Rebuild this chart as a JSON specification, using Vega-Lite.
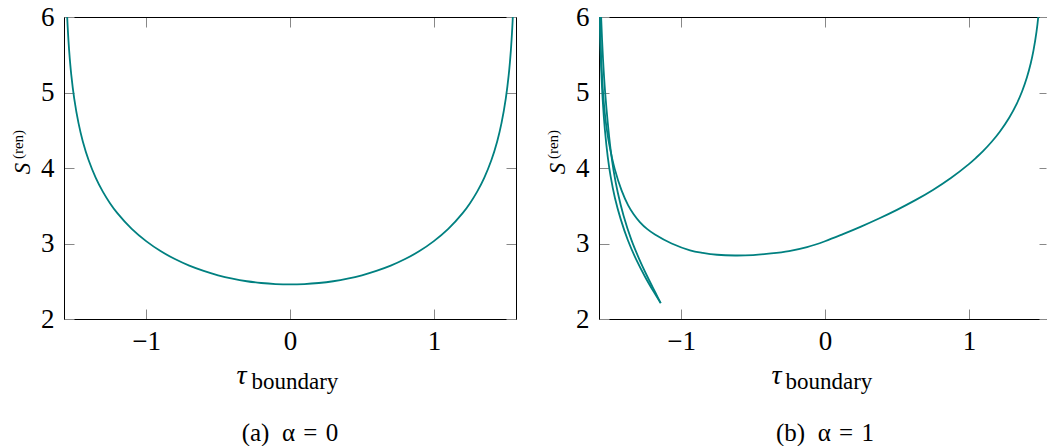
{
  "$schema": "https://vega.github.io/schema/vega-lite/v6.json",
  "background": "white",
  "padding": {"left": 10, "top": 3, "right": 0, "bottom": 0},
  "datasets": {
    "left": [
      {"t": -1.556, "s": 6.376, "c": "a"}, {"t": -1.552, "s": 6.154, "c": "a"}, {"t": -1.545, "s": 5.859, "c": "a"},
      {"t": -1.535, "s": 5.555, "c": "a"}, {"t": -1.52, "s": 5.229, "c": "a"}, {"t": -1.5, "s": 4.922, "c": "a"},
      {"t": -1.47, "s": 4.594, "c": "a"}, {"t": -1.44, "s": 4.352, "c": "a"}, {"t": -1.4, "s": 4.106, "c": "a"},
      {"t": -1.35, "s": 3.87, "c": "a"}, {"t": -1.3, "s": 3.684, "c": "a"}, {"t": -1.25, "s": 3.531, "c": "a"},
      {"t": -1.2, "s": 3.402, "c": "a"}, {"t": -1.1, "s": 3.193, "c": "a"}, {"t": -1.0, "s": 3.031, "c": "a"},
      {"t": -0.9, "s": 2.9, "c": "a"}, {"t": -0.8, "s": 2.794, "c": "a"}, {"t": -0.7, "s": 2.707, "c": "a"},
      {"t": -0.6, "s": 2.637, "c": "a"}, {"t": -0.5, "s": 2.579, "c": "a"}, {"t": -0.4, "s": 2.534, "c": "a"},
      {"t": -0.3, "s": 2.5, "c": "a"}, {"t": -0.2, "s": 2.477, "c": "a"}, {"t": -0.1, "s": 2.463, "c": "a"},
      {"t": 0.0, "s": 2.458, "c": "a"},
      {"t": 0.1, "s": 2.463, "c": "a"}, {"t": 0.2, "s": 2.477, "c": "a"}, {"t": 0.3, "s": 2.5, "c": "a"},
      {"t": 0.4, "s": 2.534, "c": "a"}, {"t": 0.5, "s": 2.579, "c": "a"}, {"t": 0.6, "s": 2.637, "c": "a"},
      {"t": 0.7, "s": 2.707, "c": "a"}, {"t": 0.8, "s": 2.794, "c": "a"}, {"t": 0.9, "s": 2.9, "c": "a"},
      {"t": 1.0, "s": 3.031, "c": "a"}, {"t": 1.1, "s": 3.193, "c": "a"}, {"t": 1.2, "s": 3.402, "c": "a"},
      {"t": 1.25, "s": 3.531, "c": "a"}, {"t": 1.3, "s": 3.684, "c": "a"}, {"t": 1.35, "s": 3.87, "c": "a"},
      {"t": 1.4, "s": 4.106, "c": "a"}, {"t": 1.44, "s": 4.352, "c": "a"}, {"t": 1.47, "s": 4.594, "c": "a"},
      {"t": 1.5, "s": 4.922, "c": "a"}, {"t": 1.52, "s": 5.229, "c": "a"}, {"t": 1.535, "s": 5.555, "c": "a"},
      {"t": 1.545, "s": 5.859, "c": "a"}, {"t": 1.552, "s": 6.154, "c": "a"}, {"t": 1.556, "s": 6.376, "c": "a"}
    ],
    "right": [
      {"t": -1.566, "s": 6.168, "c": "m"}, {"t": -1.562, "s": 5.808, "c": "m"}, {"t": -1.555, "s": 5.423, "c": "m"},
      {"t": -1.542, "s": 4.981, "c": "m"}, {"t": -1.53, "s": 4.717, "c": "m"}, {"t": -1.52, "s": 4.557, "c": "m"},
      {"t": -1.5, "s": 4.317, "c": "m"}, {"t": -1.461, "s": 3.985, "c": "m"}, {"t": -1.414, "s": 3.703, "c": "m"},
      {"t": -1.368, "s": 3.505, "c": "m"}, {"t": -1.33, "s": 3.387, "c": "m"}, {"t": -1.287, "s": 3.284, "c": "m"},
      {"t": -1.235, "s": 3.19, "c": "m"}, {"t": -1.182, "s": 3.119, "c": "m"}, {"t": -1.066, "s": 3.0, "c": "m"},
      {"t": -0.938, "s": 2.91, "c": "m"}, {"t": -0.85, "s": 2.876, "c": "m"}, {"t": -0.75, "s": 2.851, "c": "m"},
      {"t": -0.625, "s": 2.841, "c": "m"}, {"t": -0.5, "s": 2.847, "c": "m"}, {"t": -0.375, "s": 2.868, "c": "m"},
      {"t": -0.25, "s": 2.9, "c": "m"}, {"t": -0.125, "s": 2.952, "c": "m"}, {"t": 0.0, "s": 3.03, "c": "m"},
      {"t": 0.125, "s": 3.124, "c": "m"}, {"t": 0.25, "s": 3.224, "c": "m"}, {"t": 0.375, "s": 3.331, "c": "m"},
      {"t": 0.5, "s": 3.446, "c": "m"}, {"t": 0.625, "s": 3.571, "c": "m"}, {"t": 0.75, "s": 3.71, "c": "m"},
      {"t": 0.875, "s": 3.868, "c": "m"}, {"t": 1.0, "s": 4.052, "c": "m"}, {"t": 1.05, "s": 4.136, "c": "m"},
      {"t": 1.1, "s": 4.227, "c": "m"}, {"t": 1.16, "s": 4.351, "c": "m"}, {"t": 1.216, "s": 4.484, "c": "m"},
      {"t": 1.28, "s": 4.666, "c": "m"}, {"t": 1.333, "s": 4.853, "c": "m"}, {"t": 1.37, "s": 5.016, "c": "m"},
      {"t": 1.403, "s": 5.198, "c": "m"}, {"t": 1.43, "s": 5.387, "c": "m"}, {"t": 1.449, "s": 5.557, "c": "m"},
      {"t": 1.47, "s": 5.806, "c": "m"}, {"t": 1.484, "s": 6.038, "c": "m"}, {"t": 1.497, "s": 6.362, "c": "m"},
      {"t": -1.567, "s": 6.118, "c": "b1"}, {"t": -1.563, "s": 5.758, "c": "b1"}, {"t": -1.556, "s": 5.338, "c": "b1"},
      {"t": -1.545, "s": 4.898, "c": "b1"}, {"t": -1.53, "s": 4.508, "c": "b1"}, {"t": -1.51, "s": 4.148, "c": "b1"},
      {"t": -1.49, "s": 3.888, "c": "b1"}, {"t": -1.46, "s": 3.603, "c": "b1"}, {"t": -1.42, "s": 3.323, "c": "b1"},
      {"t": -1.37, "s": 3.043, "c": "b1"}, {"t": -1.31, "s": 2.779, "c": "b1"}, {"t": -1.25, "s": 2.557, "c": "b1"},
      {"t": -1.19, "s": 2.359, "c": "b1"}, {"t": -1.142, "s": 2.21, "c": "b1"},
      {"t": -1.562, "s": 6.407, "c": "b2"}, {"t": -1.555, "s": 5.952, "c": "b2"}, {"t": -1.543, "s": 5.448, "c": "b2"},
      {"t": -1.528, "s": 4.998, "c": "b2"}, {"t": -1.51, "s": 4.602, "c": "b2"}, {"t": -1.49, "s": 4.242, "c": "b2"},
      {"t": -1.47, "s": 3.972, "c": "b2"}, {"t": -1.44, "s": 3.672, "c": "b2"}, {"t": -1.4, "s": 3.368, "c": "b2"},
      {"t": -1.347, "s": 3.055, "c": "b2"}, {"t": -1.292, "s": 2.797, "c": "b2"}, {"t": -1.235, "s": 2.563, "c": "b2"},
      {"t": -1.18, "s": 2.354, "c": "b2"}, {"t": -1.142, "s": 2.21, "c": "b2"}
    ]
  },
  "hconcat": [
    {
      "width": 452,
      "height": 302,
      "data": {"name": "left"},
      "title": {"text": "(a)\u2002α\u2004=\u20040", "orient": "bottom", "anchor": "middle", "offset": 28, "fontSize": 25, "fontWeight": "normal", "font": "Liberation Serif", "color": "black"},
      "layer": [
        {
          "mark": {"type": "line", "color": "#008080", "strokeWidth": 1.8, "interpolate": "catmull-rom", "clip": true},
          "encoding": {
            "x": {"field": "t", "type": "quantitative", "scale": {"domain": [-1.5708, 1.5708], "nice": false, "zero": false},
              "axis": {"orient": "bottom", "values": [-1, 0, 1], "format": "d", "tickSize": -10, "labelPadding": 19, "title": "τ", "titleFontSize": 28, "titleFontStyle": "italic", "titleX": 172, "titleY": 64, "titleAlign": "left", "titleBaseline": "alphabetic"}},
            "y": {"field": "s", "type": "quantitative", "scale": {"domain": [2, 6], "nice": false, "zero": false},
              "axis": {"orient": "left", "values": [2, 3, 4, 5, 6], "format": "d", "tickSize": -10, "labelPadding": 20, "title": "S", "titleFontSize": 23, "titleFontStyle": "italic", "titleAngle": -90, "titleX": -35, "titleY": 151, "titleAlign": "center", "titleBaseline": "alphabetic"}},
            "detail": {"field": "c"}
          }
        },
        {
          "mark": {"type": "line", "opacity": 0, "clip": true},
          "encoding": {
            "x": {"field": "t", "type": "quantitative", "axis": {"orient": "top", "values": [-1, 0, 1], "labels": false, "tickSize": -10, "title": null}},
            "y": {"field": "s", "type": "quantitative", "axis": {"orient": "right", "values": [2, 3, 4, 5, 6], "labels": false, "tickSize": -10, "title": null}},
            "detail": {"field": "c"}
          }
        },
        {
          "mark": {"type": "line", "opacity": 0, "clip": true},
          "encoding": {
            "x": {"field": "t", "type": "quantitative", "axis": {"orient": "bottom", "labels": false, "ticks": false, "domain": false, "title": "boundary", "titleFontSize": 23, "titleFontStyle": "normal", "titleX": 187, "titleY": 69, "titleAlign": "left", "titleBaseline": "alphabetic"}},
            "y": {"field": "s", "type": "quantitative", "axis": {"orient": "left", "labels": false, "ticks": false, "domain": false, "title": "(ren)", "titleFontSize": 15, "titleFontStyle": "normal", "titleAngle": -90, "titleX": -42, "titleY": 127, "titleAlign": "center", "titleBaseline": "alphabetic"}},
            "detail": {"field": "c"}
          }
        }
      ],
      "resolve": {"axis": {"x": "independent", "y": "independent"}}
    },
    {
      "width": 447,
      "height": 302,
      "data": {"name": "right"},
      "title": {"text": "(b)\u2002α\u2004=\u20041", "orient": "bottom", "anchor": "middle", "offset": 28, "fontSize": 25, "fontWeight": "normal", "font": "Liberation Serif", "color": "black", "dx": 2.5},
      "layer": [
        {
          "mark": {"type": "line", "color": "#008080", "strokeWidth": 1.8, "interpolate": "catmull-rom", "clip": true},
          "encoding": {
            "x": {"field": "t", "type": "quantitative", "scale": {"domain": [-1.5708, 1.5359], "nice": false, "zero": false},
              "axis": {"orient": "bottom", "values": [-1, 0, 1], "format": "d", "tickSize": -10, "labelPadding": 19, "title": "τ", "titleFontSize": 28, "titleFontStyle": "italic", "titleX": 172, "titleY": 64, "titleAlign": "left", "titleBaseline": "alphabetic"}},
            "y": {"field": "s", "type": "quantitative", "scale": {"domain": [2, 6], "nice": false, "zero": false},
              "axis": {"orient": "left", "values": [2, 3, 4, 5, 6], "format": "d", "tickSize": -10, "labelPadding": 20, "title": "S", "titleFontSize": 23, "titleFontStyle": "italic", "titleAngle": -90, "titleX": -35, "titleY": 151, "titleAlign": "center", "titleBaseline": "alphabetic"}},
            "detail": {"field": "c"}
          }
        },
        {
          "mark": {"type": "line", "opacity": 0, "clip": true},
          "encoding": {
            "x": {"field": "t", "type": "quantitative", "axis": {"orient": "top", "values": [-1, 0, 1], "labels": false, "tickSize": -10, "title": null}},
            "y": {"field": "s", "type": "quantitative", "axis": {"orient": "right", "values": [2, 3, 4, 5, 6], "labels": false, "domain": false, "tickSize": -7, "title": null}},
            "detail": {"field": "c"}
          }
        },
        {
          "mark": {"type": "line", "opacity": 0, "clip": true},
          "encoding": {
            "x": {"field": "t", "type": "quantitative", "axis": {"orient": "bottom", "labels": false, "ticks": false, "domain": false, "title": "boundary", "titleFontSize": 23, "titleFontStyle": "normal", "titleX": 186, "titleY": 69, "titleAlign": "left", "titleBaseline": "alphabetic"}},
            "y": {"field": "s", "type": "quantitative", "axis": {"orient": "left", "labels": false, "ticks": false, "domain": false, "title": "(ren)", "titleFontSize": 15, "titleFontStyle": "normal", "titleAngle": -90, "titleX": -42, "titleY": 127, "titleAlign": "center", "titleBaseline": "alphabetic"}},
            "detail": {"field": "c"}
          }
        }
      ],
      "resolve": {"axis": {"x": "independent", "y": "independent"}}
    }
  ],
  "spacing": 83,
  "bounds": "flush",
  "config": {
    "view": {"stroke": null},
    "font": "Liberation Serif",
    "axis": {
      "grid": false,
      "domainColor": "black",
      "domainWidth": 1,
      "tickColor": "#888888",
      "tickWidth": 1,
      "labelFont": "Liberation Serif",
      "labelFontSize": 27,
      "labelColor": "black",
      "titleFont": "Liberation Serif",
      "titleFontWeight": "normal",
      "titleColor": "black"
    }
  }
}
